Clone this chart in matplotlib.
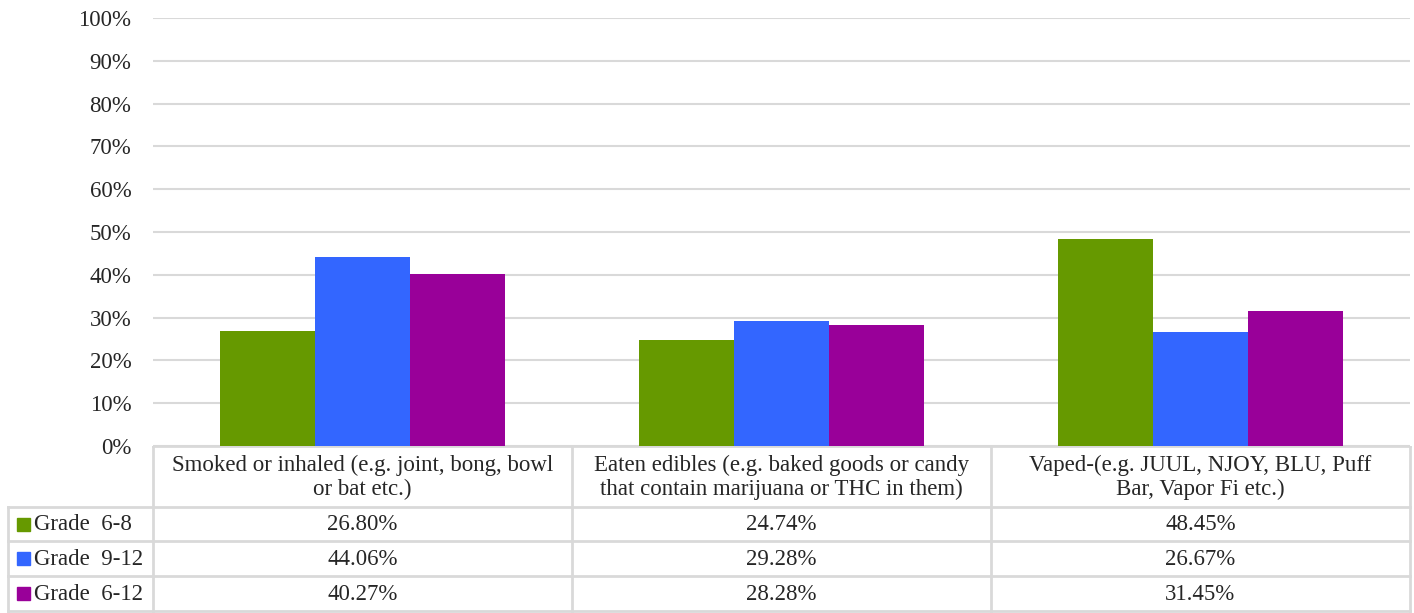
import matplotlib
matplotlib.use("Agg")
import matplotlib.pyplot as plt
from matplotlib.patches import Rectangle
from matplotlib.ticker import PercentFormatter
import numpy as np

plt.rcParams['font.family'] = ['Liberation Serif', 'DejaVu Serif']

categories = ["Smoked or inhaled (e.g. joint, bong, bowl\nor bat etc.)",
              "Eaten edibles (e.g. baked goods or candy\nthat contain marijuana or THC in them)",
              "Vaped-(e.g. JUUL, NJOY, BLU, Puff\nBar, Vapor Fi etc.)"]
series_names = ["Grade  6-8", "Grade  9-12", "Grade  6-12"]
grade_6_8 = [26.80, 24.74, 48.45]
grade_9_12 = [44.06, 29.28, 26.67]
grade_6_12 = [40.27, 28.28, 31.45]
colors = ["#669900", "#3366FF", "#990099"]

series = [grade_6_8, grade_9_12, grade_6_12]
FS = 16.5
TXT = '#262626'

W, H = 1414, 613
fig = plt.figure(figsize=(W / 100, H / 100), dpi=100)

# plot area in pixel terms
left, right, top, bottom = 153, 1410, 18, 446
ax = fig.add_axes([left / W, 1 - bottom / H, (right - left) / W, (bottom - top) / H])

n = len(categories)
x = np.arange(n)
bw = 0.227
for i, (vals, c) in enumerate(zip(series, colors)):
    ax.bar(x + (i - 1) * bw, vals, width=bw, color=c, zorder=3)

ax.set_xlim(-0.5, n - 0.5)
ax.set_ylim(0, 100)
ax.set_yticks(np.arange(0, 101, 10))
ax.yaxis.set_major_formatter(PercentFormatter(decimals=0))
ax.tick_params(axis='y', length=0, labelsize=FS, pad=15.5, colors=TXT)
ax.set_xticks([])
ax.grid(axis='y', color='#D9D9D9', linewidth=1.5, zorder=0)
for s in ax.spines.values():
    s.set_visible(False)

# data table underneath
tab = fig.add_axes([0, 0, 1, 1 - bottom / H])
tab.set_xlim(0, W)
tab.set_ylim(H, bottom)
tab.axis('off')
line_kw = dict(color='#D9D9D9', linewidth=2)
row_y = [446, 507, 541, 576, 611]
col_x = [left + k * (right - left) / n for k in range(n + 1)]
tab.plot([left, right], [row_y[0], row_y[0]], **line_kw)
for yy in row_y[1:]:
    tab.plot([8, right], [yy, yy], **line_kw)
for xx in col_x:
    tab.plot([xx, xx], [row_y[0], row_y[-1]], **line_kw)
tab.plot([8, 8], [row_y[1], row_y[-1]], **line_kw)

for k, cat in enumerate(categories):
    cx = (col_x[k] + col_x[k + 1]) / 2
    tab.text(cx, (row_y[0] + row_y[1]) / 2 + 1, cat, ha='center', va='center',
             fontsize=FS, color=TXT, linespacing=1.22)

for r, (name, vals, c) in enumerate(zip(series_names, series, colors)):
    cy = (row_y[r + 1] + row_y[r + 2]) / 2
    tab.add_patch(Rectangle((17, cy - 6), 13, 13, color=c))
    tab.text(34, cy + 1, name, ha='left', va='center', fontsize=FS, color=TXT)
    for k, v in enumerate(vals):
        cx = (col_x[k] + col_x[k + 1]) / 2
        tab.text(cx, cy + 1, f"{v:.2f}%", ha='center', va='center', fontsize=FS, color=TXT)

fig.savefig("out.png", dpi=100)
